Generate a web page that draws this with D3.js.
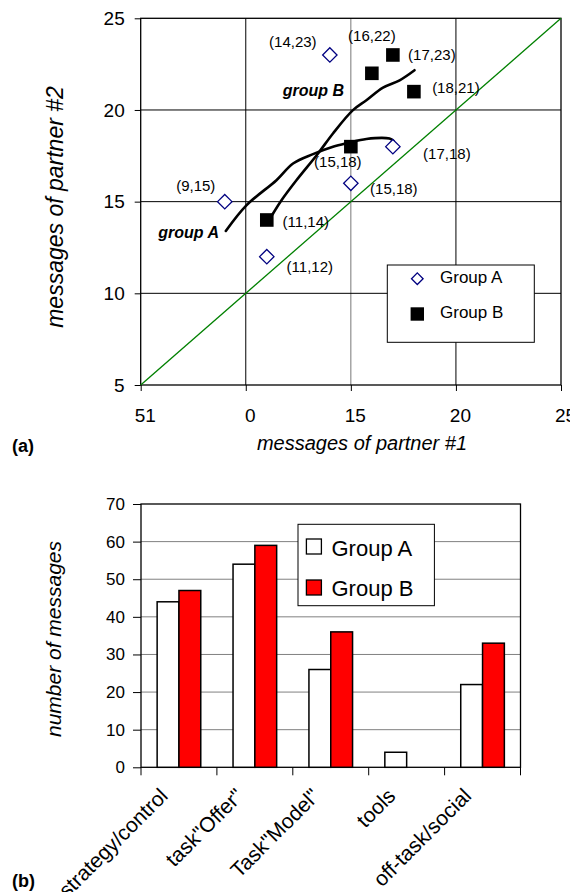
<!DOCTYPE html>
<html>
<head>
<meta charset="utf-8">
<script src="https://cdn.jsdelivr.net/npm/d3@7"></script>
<style>
  body { margin: 0; background: #fff; }
  svg { display: block; font-family: "Liberation Sans", Arial, sans-serif; }
</style>
</head>
<body>
<svg id="chart" width="570" height="892"></svg>
<script>
// ---- (a) scatter: messages of partner #1 vs partner #2
const groupA = [[9, 15], [11, 12], [15, 16], [17, 18], [14, 23]];
const groupALabels = ["(9,15)", "(11,12)", "(15,18)", "(17,18)", "(14,23)"];
const groupB = [[11, 14], [15, 18], [16, 22], [17, 23], [18, 21]];
const groupBLabels = ["(11,14)", "(15,18)", "(16,22)", "(17,23)", "(18,21)"];
// hand drawn trend strokes (in data units)
const trendA = [[9.05, 13.4], [10.04, 14.81], [11.46, 16.17], [12.25, 17.08], [13.2, 17.59],
  [14.15, 17.99], [14.86, 18.2], [15.74, 18.42], [16.84, 18.44], [17.03, 18.31]];
const trendB = [[11.27, 14.3], [11.7, 15.08], [12.41, 16.17], [13.44, 17.63], [14.15, 18.72],
  [15.1, 19.99], [15.74, 20.53], [16.53, 21.22], [17.32, 21.62], [18.03, 22.17]];
const xTicks = [5, 10, 15, 20, 25];
const xTickLabels = ["51", "0", "15", "20", "25"];
const yTicks = [5, 10, 15, 20, 25];

// ---- (b) bars: number of messages per category
const categories = ["strategy/control", "task\"Offer\"", "Task\"Model\"", "tools", "off-task/social"];
const groups = ["Group A", "Group B"];
const valuesA = [44, 54, 26, 4, 22];
const valuesB = [47, 59, 36, 0, 33];
const barTicks = [0, 10, 20, 30, 40, 50, 60, 70];

const svg = d3.select('#chart');

// ================= chart (a) =================
const a = { left: 140.7, right: 561, top: 18.3, bottom: 385 };
const x = d3.scaleLinear().domain([5, 25]).range([a.left, a.right]);
const y = d3.scaleLinear().domain([5, 25]).range([a.bottom, a.top]);

const ga = svg.append('g');

// grid
ga.selectAll('.vgrid').data([10, 15, 20]).enter().append('line')
  .attr('x1', d => x(d)).attr('x2', d => x(d))
  .attr('y1', a.top).attr('y2', a.bottom)
  .attr('stroke', d => d == 15 ? '#777' : '#000').attr('stroke-width', 1);
ga.selectAll('.hgrid').data([10, 15, 20]).enter().append('line')
  .attr('x1', a.left).attr('x2', a.right)
  .attr('y1', d => y(d)).attr('y2', d => y(d))
  .attr('stroke', '#000').attr('stroke-width', 1);

ga.append('rect')
  .attr('x', a.left).attr('y', a.top)
  .attr('width', a.right - a.left).attr('height', a.bottom - a.top)
  .attr('fill', 'none').attr('stroke', '#000').attr('stroke-width', 1.3);

// diagonal y = x
ga.append('line')
  .attr('x1', x(5)).attr('y1', y(5)).attr('x2', x(25)).attr('y2', y(25))
  .attr('stroke', '#008000').attr('stroke-width', 1.3);

// axes
const xAxisA = ga.append('g').attr('transform', `translate(0,${a.bottom})`)
  .call(d3.axisBottom(x).tickValues(xTicks).tickFormat((d, i) => xTickLabels[i])
    .tickSize(6).tickPadding(18));
const yAxisA = ga.append('g').attr('transform', `translate(${a.left},0)`)
  .call(d3.axisLeft(y).tickValues(yTicks).tickSize(6).tickPadding(10));
[xAxisA, yAxisA].forEach(ax => {
  ax.select('.domain').remove();
  ax.selectAll('line').attr('stroke', '#000');
  ax.selectAll('text').attr('font-size', 19).attr('fill', '#000')
    .attr('font-family', '"Liberation Sans", Arial, sans-serif');
});
xAxisA.selectAll('text').attr('dx', 4);

// trend strokes
const line = d3.line().x(d => x(d[0])).y(d => y(d[1])).curve(d3.curveCatmullRom);
[trendA, trendB].forEach(t => {
  ga.append('path').attr('d', line(t))
    .attr('fill', 'none').attr('stroke', '#000')
    .attr('stroke-width', 2.6).attr('stroke-linecap', 'round');
});

// markers
const diamond = (cx, cy, r) => `M${cx},${cy - r}L${cx + r},${cy}L${cx},${cy + r}L${cx - r},${cy}Z`;
ga.selectAll('.ptA').data(groupA).enter().append('path')
  .attr('d', d => diamond(x(d[0]), y(d[1]), 7.2))
  .attr('fill', '#fff').attr('stroke', '#000080').attr('stroke-width', 1.3);
ga.selectAll('.ptB').data(groupB).enter().append('rect')
  .attr('x', d => x(d[0]) - 6.8).attr('y', d => y(d[1]) - 6.8)
  .attr('width', 13.6).attr('height', 13.6).attr('fill', '#000');

// point labels (offsets from the marker)
const offA = [[-29, -16], [43, 10], [43, 5], [54, 7], [-37, -13]];
const offB = [[39, 2], [-13, 15], [0, -38], [39, 0], [42, -4]];
const addLabels = (pts, labels, offs) => {
  ga.selectAll(null).data(pts).enter().append('text')
    .attr('x', (d, i) => x(d[0]) + offs[i][0])
    .attr('y', (d, i) => y(d[1]) + offs[i][1])
    .attr('dy', '0.35em').attr('text-anchor', 'middle')
    .attr('font-size', 15).attr('fill', '#000')
    .text((d, i) => labels[i]);
};
addLabels(groupA, groupALabels, offA);
addLabels(groupB, groupBLabels, offB);

ga.append('text').attr('x', 282.7).attr('y', 96)
  .attr('font-size', 16).attr('font-weight', 'bold').attr('font-style', 'italic')
  .text('group B');
ga.append('text').attr('x', 158.3).attr('y', 238)
  .attr('font-size', 16).attr('font-weight', 'bold').attr('font-style', 'italic')
  .text('group A');

// legend (a)
const la = ga.append('g');
la.append('rect').attr('x', 387.3).attr('y', 265).attr('width', 147).attr('height', 77.3)
  .attr('fill', '#fff').attr('stroke', '#000').attr('stroke-width', 1);
la.append('path').attr('d', diamond(417.3, 278.7, 5.8))
  .attr('fill', '#fff').attr('stroke', '#000080').attr('stroke-width', 1.3);
la.append('rect').attr('x', 410.6).attr('y', 307.3).attr('width', 13.4).attr('height', 13.4)
  .attr('fill', '#000');
la.append('text').attr('x', 440).attr('y', 283.3).attr('font-size', 17).text(groups[0]);
la.append('text').attr('x', 440).attr('y', 318.3).attr('font-size', 17).text(groups[1]);

// titles (a)
ga.append('text').attr('x', 362).attr('y', 450)
  .attr('text-anchor', 'middle').attr('font-size', 20).attr('font-style', 'italic')
  .text('messages of partner #1');
ga.append('text').attr('transform', 'translate(63,207) rotate(-90)')
  .attr('text-anchor', 'middle').attr('font-size', 23).attr('font-style', 'italic')
  .text('messages of partner #2');
ga.append('text').attr('x', 12).attr('y', 452)
  .attr('font-size', 18).attr('font-weight', 'bold').text('(a)');

// ================= chart (b) =================
const b = { left: 141, right: 520.5, top: 504, bottom: 767.3 };
const x0 = d3.scaleBand().domain(categories).range([b.left, b.right]).paddingInner(0);
const x1 = d3.scaleBand().domain(groups).range([0, x0.bandwidth()]).paddingInner(0).paddingOuter(0.74);
const yb = d3.scaleLinear().domain([0, 70]).range([b.bottom, b.top]);

const gb = svg.append('g');

gb.selectAll('.bgrid').data(barTicks.filter(d => d > 0 && d < 70)).enter().append('line')
  .attr('x1', b.left).attr('x2', b.right)
  .attr('y1', d => yb(d)).attr('y2', d => yb(d))
  .attr('stroke', '#808080').attr('stroke-width', 1);

gb.append('rect')
  .attr('x', b.left).attr('y', b.top)
  .attr('width', b.right - b.left).attr('height', b.bottom - b.top)
  .attr('fill', 'none').attr('stroke', '#000').attr('stroke-width', 1.3);

const barData = categories.map((c, i) => [
  { cat: c, grp: groups[0], v: valuesA[i] },
  { cat: c, grp: groups[1], v: valuesB[i] }
]).flat();

gb.selectAll('.bar').data(barData.filter(d => d.v > 0)).enter().append('rect')
  .attr('x', d => x0(d.cat) + x1(d.grp))
  .attr('y', d => yb(d.v))
  .attr('width', x1.bandwidth())
  .attr('height', d => yb(0) - yb(d.v))
  .attr('fill', d => d.grp == groups[0] ? '#fff' : '#ff0000')
  .attr('stroke', '#000').attr('stroke-width', 1.5);

const yAxisB = gb.append('g').attr('transform', `translate(${b.left},0)`)
  .call(d3.axisLeft(yb).tickValues(barTicks).tickSize(8).tickPadding(8));
yAxisB.select('.domain').remove();
yAxisB.selectAll('line').attr('stroke', '#000');
yAxisB.selectAll('text').attr('font-size', 17).attr('fill', '#000')
  .attr('font-family', '"Liberation Sans", Arial, sans-serif');

// category ticks on the band edges
const edges = categories.map(c => x0(c)).concat([b.right]);
gb.selectAll('.etick').data(edges).enter().append('line')
  .attr('x1', d => d).attr('x2', d => d)
  .attr('y1', b.bottom).attr('y2', b.bottom + 8)
  .attr('stroke', '#000').attr('stroke-width', 1);

gb.selectAll('.clabel').data(categories).enter().append('text')
  .attr('transform', d => `translate(${x0(d) + x0.bandwidth() / 2 - 10},${b.bottom + 30}) rotate(-45)`)
  .attr('text-anchor', 'end').attr('font-size', 21).attr('fill', '#000')
  .text(d => d);

// legend (b)
const lb = gb.append('g');
lb.append('rect').attr('x', 298).attr('y', 524.3).attr('width', 136.4).attr('height', 81.4)
  .attr('fill', '#fff').attr('stroke', '#000').attr('stroke-width', 1);
[0, 1].forEach(i => {
  lb.append('rect').attr('x', 306.4).attr('y', 539 + i * 41).attr('width', 15).attr('height', 15)
    .attr('fill', i == 0 ? '#fff' : '#ff0000').attr('stroke', '#000').attr('stroke-width', 1.3);
  lb.append('text').attr('x', 331.5).attr('y', 556 + i * 40).attr('font-size', 22).text(groups[i]);
});

gb.append('text').attr('transform', 'translate(61,639) rotate(-90)')
  .attr('text-anchor', 'middle').attr('font-size', 21).attr('font-style', 'italic')
  .text('number of messages');
gb.append('text').attr('x', 12).attr('y', 887)
  .attr('font-size', 18).attr('font-weight', 'bold').text('(b)');
</script>
</body>
</html>
